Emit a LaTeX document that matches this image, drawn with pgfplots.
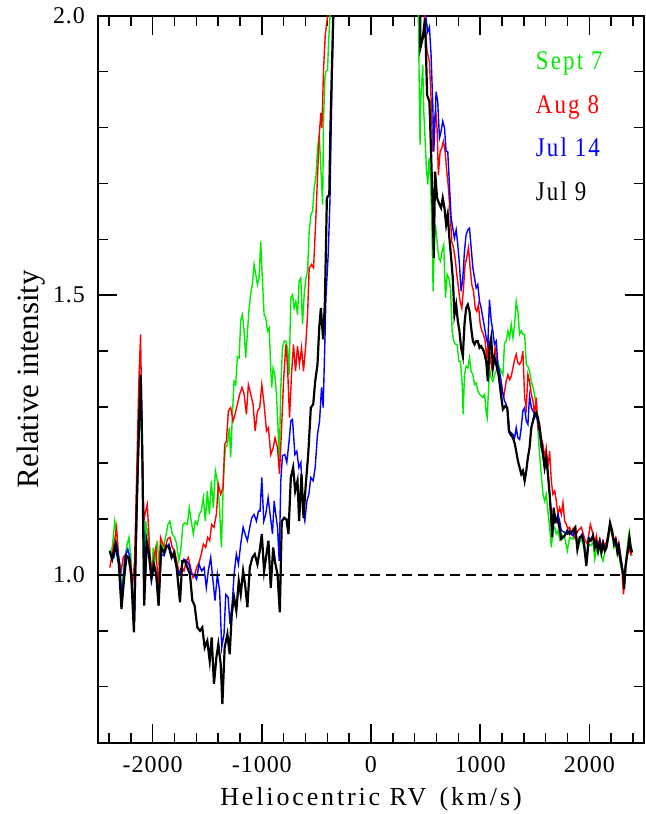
\documentclass[border=0pt]{standalone}
\usepackage{fontspec}
\setmainfont{Liberation Serif}
\newfontfamily\tickfont[LetterSpace=4]{Liberation Serif}
\newfontfamily\labfont[LetterSpace=11]{Liberation Serif}
\newfontfamily\legfont[LetterSpace=8,FakeStretch=0.85]{Liberation Serif}
\usepackage{pgfplots}
\pgfplotsset{compat=1.18}
\definecolor{sgreen}{RGB}{0,235,0}
\definecolor{sred}{RGB}{255,0,0}
\definecolor{sblue}{RGB}{0,0,255}

\begin{document}
\begin{tikzpicture}
\path[use as bounding box] (-49pt,-35.7pt) rectangle (273.5pt,371.3pt);
\begin{axis}[
  scale only axis, width=273pt, height=363.5pt,
  xmin=-2500, xmax=2500, ymin=0.7, ymax=2.0,
  xtick={-2000,-1000,0,1000,2000},
  xticklabels={-2000,-1000,0,1000,2000},
  minor xtick={-2400,-2200,...,2400},
  ytick={1.0,1.5,2.0},
  yticklabels={1.0,1.5,2.0},
  minor ytick={0.8,0.9,1.1,1.2,1.3,1.4,1.6,1.7,1.8,1.9},
  tick align=inside,
  major tick length=9.5pt, minor tick length=5pt,
  tick style={black, line width=0.75pt},
  axis line style={line width=1pt},
  xticklabel style={font=\tickfont\fontsize{12}{14}\selectfont, yshift=-3.5pt},
  yticklabel style={font=\tickfont\fontsize{12}{14}\selectfont, xshift=-3pt},
  xlabel={Heliocentric RV\hspace{0.5em}(km/s)},
  ylabel={Relative intensity},
  every axis x label/.style={at={(axis description cs:0.5,-0.078)}, anchor=center, font=\labfont\fontsize{13}{15}\selectfont},
  every axis y label/.style={at={(axis description cs:-0.122,0.5)}, rotate=90, anchor=center, font=\fontsize{15.5}{17}\selectfont},
]

% Sept 7
\addplot[sgreen, line width=0.7pt] coordinates {
(-2392,1.037) (-2370,1.049) (-2346,1.096) (-2324,1.061) (-2303,1.013) (-2285,0.965) (-2263,1.019) (-2239,1.049) (-2217,1.067) (-2196,1.025) (-2171,0.906) (-2150,1.108) (-2132,1.257) (-2113,1.346) (-2095,1.198) (-2080,0.989) (-2064,1.096) (-2049,1.079) (-2028,1.049) (-2009,1.001) (-1994,1.049) (-1979,1.025) (-1957,1.061) (-1936,1.007) (-1921,1.061) (-1902,1.049) (-1881,1.067) (-1860,1.090) (-1841,1.096) (-1820,1.073) (-1798,1.067) (-1780,1.055) (-1759,1.025) (-1743,1.043) (-1722,1.090) (-1704,1.093) (-1682,1.090) (-1664,1.120) (-1646,1.096) (-1627,1.073) (-1609,1.096) (-1590,1.090) (-1572,1.108) (-1554,1.114) (-1535,1.138) (-1517,1.096) (-1499,1.150) (-1480,1.108) (-1462,1.168) (-1444,1.120) (-1425,1.186) (-1407,1.168) (-1389,1.126) (-1370,1.049) (-1352,1.168) (-1334,1.227) (-1315,1.233) (-1297,1.263) (-1285,1.210) (-1269,1.287) (-1254,1.346) (-1239,1.340) (-1224,1.390) (-1208,1.388) (-1193,1.455) (-1178,1.465) (-1162,1.436) (-1147,1.388) (-1132,1.433) (-1117,1.474) (-1101,1.504) (-1086,1.519) (-1071,1.555) (-1055,1.537) (-1040,1.519) (-1025,1.531) (-1010,1.596) (-994,1.525) (-979,1.465) (-964,1.460) (-948,1.436) (-933,1.442) (-918,1.370) (-909,1.335) (-896,1.370) (-881,1.358) (-866,1.323) (-851,1.263) (-841,1.192) (-826,1.335) (-811,1.406) (-795,1.418) (-780,1.418) (-765,1.406) (-750,1.358) (-734,1.495) (-719,1.501) (-704,1.477) (-688,1.489) (-673,1.465) (-658,1.525) (-643,1.531) (-627,1.448) (-612,1.501) (-596,1.531) (-581,1.543) (-566,1.614) (-550,1.644) (-535,1.650) (-520,1.692) (-505,1.710) (-489,1.763) (-474,1.787) (-459,1.727) (-443,1.662) (-434,1.817) (-422,1.888) (-413,1.900) (-398,1.903) (-388,1.954) (-376,1.998) (-360,2.3)
(420,2.3) (434,1.995) (443,1.858) (449,1.769) (458,1.858) (474,1.912) (483,1.829) (495,1.781) (507,1.727) (520,1.698) (532,1.745) (544,1.710) (556,1.638) (569,1.507) (578,1.579) (590,1.626) (605,1.596) (621,1.567) (636,1.561) (651,1.579) (666,1.590) (682,1.495) (697,1.537) (712,1.531) (728,1.513) (743,1.436) (758,1.418) (773,1.412) (789,1.412) (804,1.382) (819,1.382) (835,1.340) (844,1.287) (856,1.358) (871,1.373) (887,1.370) (902,1.388) (917,1.364) (933,1.358) (948,1.340) (963,1.343) (978,1.329) (994,1.323) (1009,1.320) (1024,1.317) (1040,1.323) (1055,1.290) (1064,1.281) (1076,1.330) (1085,1.370) (1101,1.352) (1116,1.346) (1131,1.358) (1147,1.364) (1162,1.382) (1177,1.370) (1192,1.364) (1208,1.358) (1223,1.415) (1238,1.418) (1254,1.436) (1269,1.424) (1284,1.448) (1300,1.424) (1315,1.448) (1330,1.489) (1345,1.471) (1361,1.430) (1376,1.436) (1391,1.430) (1407,1.430) (1422,1.376) (1437,1.373) (1452,1.364) (1468,1.346) (1483,1.335) (1498,1.323) (1514,1.299) (1529,1.257) (1544,1.215) (1559,1.180) (1575,1.144) (1590,1.132) (1605,1.144) (1620,1.114) (1636,1.085) (1651,1.049) (1666,1.079) (1682,1.085) (1697,1.073) (1712,1.079) (1728,1.064) (1743,1.073) (1774,1.067) (1798,1.043) (1819,1.067) (1850,1.064) (1871,1.079) (1890,1.043) (1911,1.058) (1933,1.064) (1951,1.046) (1972,1.022) (1994,1.055) (2012,1.052) (2033,1.058) (2049,1.028) (2064,1.049) (2079,1.037) (2095,1.052) (2110,1.034) (2125,1.025) (2141,1.040) (2156,1.046) (2171,1.061) (2189,1.082) (2208,1.073) (2226,1.049) (2241,1.055) (2257,1.037) (2269,1.040) (2281,1.022) (2293,1.010) (2309,1.001) (2318,0.992) (2330,1.016) (2342,1.040) (2355,1.064) (2364,1.076) (2379,1.040) (2391,1.034)
};

% Aug 8
\addplot[sred, line width=0.7pt] coordinates {
(-2392,1.013) (-2370,1.037) (-2349,1.061) (-2330,1.085) (-2309,1.025) (-2288,1.007) (-2269,1.031) (-2248,1.037) (-2227,1.031) (-2208,1.013) (-2187,0.974) (-2165,1.025) (-2147,1.168) (-2126,1.346) (-2110,1.430) (-2095,1.227) (-2080,1.096) (-2064,1.114) (-2049,1.126) (-2034,1.073) (-2019,1.013) (-2003,1.019) (-1988,1.031) (-1970,1.049) (-1948,0.977) (-1927,1.067) (-1905,1.055) (-1884,1.049) (-1863,1.064) (-1841,1.067) (-1820,1.049) (-1798,1.043) (-1774,1.019) (-1752,1.001) (-1731,1.013) (-1713,1.007) (-1691,1.025) (-1673,1.031) (-1652,1.013) (-1630,0.995) (-1612,1.001) (-1597,1.013) (-1575,1.022) (-1554,1.037) (-1535,1.055) (-1514,1.049) (-1496,1.067) (-1477,1.061) (-1459,1.090) (-1438,1.085) (-1416,1.108) (-1398,1.162) (-1376,1.144) (-1355,1.156) (-1340,1.233) (-1324,1.239) (-1306,1.293) (-1285,1.299) (-1263,1.275) (-1245,1.287) (-1224,1.305) (-1202,1.323) (-1181,1.335) (-1162,1.323) (-1141,1.287) (-1123,1.340) (-1101,1.323) (-1080,1.305) (-1061,1.257) (-1040,1.293) (-1019,1.299) (-1000,1.340) (-979,1.305) (-957,1.257) (-939,1.263) (-918,1.215) (-896,1.227) (-878,1.245) (-856,1.227) (-838,1.180) (-820,1.257) (-801,1.346) (-780,1.412) (-765,1.376) (-746,1.281) (-728,1.358) (-710,1.412) (-691,1.364) (-673,1.409) (-655,1.376) (-636,1.406) (-618,1.364) (-597,1.412) (-581,1.465) (-566,1.549) (-544,1.555) (-526,1.549) (-505,1.638) (-489,1.715) (-474,1.787) (-459,1.826) (-450,1.799) (-434,1.906) (-419,1.965) (-398,1.998) (-380,2.3)
(470,2.3) (489,1.995) (514,1.936) (535,1.918) (550,1.852) (566,1.757) (581,1.817) (593,1.829) (605,1.799) (617,1.715) (633,1.757) (648,1.763) (663,1.775) (679,1.757) (694,1.721) (709,1.692) (724,1.650) (740,1.596) (755,1.585) (770,1.567) (786,1.537) (801,1.513) (816,1.489) (832,1.477) (847,1.513) (862,1.555) (877,1.567) (893,1.585) (908,1.549) (923,1.519) (939,1.507) (954,1.477) (969,1.471) (984,1.483) (1000,1.448) (1015,1.436) (1030,1.430) (1046,1.418) (1061,1.382) (1076,1.424) (1091,1.388) (1107,1.370) (1122,1.388) (1137,1.406) (1153,1.376) (1177,1.346) (1199,1.329) (1217,1.320) (1238,1.346) (1254,1.358) (1269,1.349) (1284,1.355) (1300,1.370) (1315,1.385) (1330,1.394) (1345,1.379) (1361,1.376) (1376,1.382) (1391,1.400) (1407,1.317) (1422,1.299) (1437,1.358) (1452,1.346) (1468,1.323) (1483,1.311) (1498,1.287) (1514,1.317) (1529,1.263) (1544,1.269) (1559,1.245) (1575,1.233) (1590,1.210) (1605,1.227) (1620,1.192) (1636,1.221) (1651,1.168) (1666,1.144) (1682,1.150) (1697,1.132) (1712,1.108) (1728,1.120) (1743,1.108) (1758,1.129) (1774,1.096) (1789,1.090) (1804,1.082) (1819,1.085) (1835,1.073) (1850,1.082) (1865,1.067) (1896,1.079) (1926,1.085) (1957,1.064) (1981,1.055) (2009,1.090) (2033,1.073) (2049,1.058) (2064,1.070) (2079,1.052) (2095,1.064) (2110,1.049) (2125,1.061) (2141,1.052) (2156,1.058) (2171,1.073) (2189,1.090) (2208,1.070) (2226,1.061) (2241,1.067) (2257,1.049) (2269,1.058) (2281,1.043) (2293,1.025) (2312,0.965) (2325,0.990) (2342,1.034) (2355,1.040) (2367,1.046) (2379,1.037) (2391,1.043)
};

% Jul 14
\addplot[sblue, line width=0.7pt] coordinates {
(-2392,1.040) (-2355,1.031) (-2330,1.055) (-2300,1.019) (-2279,0.954) (-2254,1.031) (-2227,1.046) (-2208,1.031) (-2187,0.989) (-2165,0.918) (-2141,1.138) (-2116,1.317) (-2104,1.346) (-2089,1.168) (-2071,0.977) (-2049,1.055) (-2028,1.037) (-2009,0.989) (-1988,1.013) (-1967,1.001) (-1945,0.945) (-1921,1.037) (-1896,1.034) (-1872,1.049) (-1850,1.055) (-1826,1.037) (-1804,1.031) (-1780,1.013) (-1759,1.001) (-1737,1.013) (-1713,1.028) (-1691,1.025) (-1667,1.019) (-1646,1.001) (-1621,1.001) (-1597,0.992) (-1575,1.019) (-1551,1.007) (-1529,1.013) (-1508,0.977) (-1490,1.007) (-1468,1.031) (-1447,0.989) (-1428,0.954) (-1407,1.001) (-1386,0.971) (-1367,0.870) (-1346,0.894) (-1330,0.965) (-1309,0.960) (-1291,0.912) (-1269,0.954) (-1254,1.001) (-1233,1.037) (-1214,1.019) (-1193,1.055) (-1171,1.085) (-1153,1.073) (-1132,1.061) (-1110,1.085) (-1092,1.102) (-1071,1.108) (-1049,1.096) (-1031,1.114) (-1016,1.114) (-1000,1.174) (-982,1.096) (-964,1.108) (-942,1.138) (-924,1.108) (-902,1.073) (-887,1.132) (-872,1.108) (-856,1.085) (-841,1.025) (-826,1.168) (-811,1.213) (-789,1.215) (-771,1.201) (-750,1.239) (-734,1.275) (-719,1.278) (-697,1.215) (-679,1.221) (-661,1.192) (-642,1.201) (-624,1.114) (-606,1.096) (-587,1.132) (-569,1.144) (-551,1.174) (-529,1.168) (-511,1.192) (-490,1.251) (-471,1.275) (-453,1.335) (-438,1.299) (-419,1.442) (-413,1.495) (-392,1.573) (-376,1.668) (-358,1.876) (-343,1.998) (-330,2.3)
(470,2.3) (504,1.995) (520,1.971) (535,1.980) (550,1.930) (566,1.840) (575,1.757) (587,1.811) (596,1.864) (611,1.846) (627,1.781) (642,1.793) (657,1.811) (673,1.799) (688,1.757) (703,1.757) (718,1.698) (734,1.638) (749,1.620) (764,1.602) (780,1.617) (795,1.590) (810,1.555) (825,1.507) (841,1.531) (856,1.579) (871,1.608) (887,1.617) (902,1.620) (917,1.585) (933,1.549) (948,1.531) (963,1.513) (978,1.519) (994,1.489) (1009,1.477) (1024,1.460) (1040,1.442) (1055,1.424) (1070,1.412) (1085,1.492) (1101,1.454) (1116,1.436) (1131,1.412) (1147,1.418) (1162,1.376) (1177,1.364) (1192,1.346) (1208,1.323) (1223,1.311) (1238,1.305) (1254,1.290) (1269,1.257) (1284,1.254) (1300,1.251) (1315,1.245) (1330,1.263) (1345,1.245) (1361,1.242) (1376,1.263) (1391,1.293) (1407,1.299) (1422,1.275) (1437,1.269) (1452,1.320) (1468,1.299) (1483,1.293) (1498,1.287) (1514,1.281) (1529,1.275) (1544,1.251) (1559,1.227) (1575,1.215) (1590,1.192) (1605,1.204) (1620,1.186) (1636,1.144) (1651,1.114) (1666,1.090) (1682,1.108) (1697,1.096) (1712,1.108) (1728,1.096) (1743,1.079) (1774,1.076) (1798,1.073) (1819,1.079) (1850,1.070) (1871,1.082) (1890,1.052) (1911,1.064) (1933,1.073) (1951,1.058) (1972,1.025) (1994,1.067) (2012,1.064) (2033,1.067) (2049,1.055) (2064,1.061) (2079,1.049) (2095,1.061) (2110,1.046) (2125,1.058) (2141,1.046) (2156,1.052) (2171,1.070) (2189,1.088) (2208,1.076) (2226,1.061) (2241,1.064) (2257,1.049) (2269,1.055) (2281,1.037) (2293,1.025) (2309,1.004) (2318,0.989) (2330,1.016) (2342,1.034) (2355,1.043) (2367,1.058) (2379,1.046) (2391,1.043)
};

% Jul 9
\addplot[black, line width=1.1pt] coordinates {
(-2392,1.043) (-2370,1.028) (-2340,1.055) (-2309,1.019) (-2285,0.939) (-2263,0.989) (-2239,1.034) (-2217,1.031) (-2196,1.001) (-2171,0.897) (-2147,1.108) (-2126,1.257) (-2110,1.358) (-2095,1.227) (-2077,0.945) (-2055,1.061) (-2034,1.037) (-2012,0.995) (-1988,1.019) (-1967,1.001) (-1945,0.945) (-1921,1.049) (-1896,1.040) (-1872,1.052) (-1850,1.049) (-1826,1.031) (-1804,1.040) (-1780,1.013) (-1749,0.951) (-1728,1.025) (-1704,1.025) (-1682,1.013) (-1658,1.001) (-1636,0.954) (-1615,0.945) (-1590,0.906) (-1566,0.900) (-1545,0.906) (-1523,0.870) (-1499,0.882) (-1477,0.846) (-1459,0.888) (-1438,0.805) (-1416,0.852) (-1398,0.876) (-1376,0.840) (-1361,0.769) (-1340,0.870) (-1315,0.894) (-1294,0.858) (-1275,0.930) (-1254,0.960) (-1233,0.936) (-1211,0.989) (-1193,0.965) (-1171,1.007) (-1153,0.983) (-1132,0.942) (-1110,1.013) (-1086,1.031) (-1064,1.037) (-1040,1.019) (-1019,1.043) (-1000,1.073) (-979,1.007) (-957,1.037) (-939,1.061) (-918,0.977) (-896,1.049) (-878,1.022) (-856,1.001) (-835,0.933) (-817,1.096) (-795,1.102) (-774,1.099) (-756,1.073) (-734,1.174) (-713,1.192) (-694,1.150) (-673,1.168) (-658,1.096) (-636,1.180) (-618,1.102) (-597,1.162) (-575,1.215) (-551,1.299) (-529,1.305) (-511,1.346) (-490,1.376) (-474,1.442) (-459,1.477) (-438,1.421) (-422,1.489) (-404,1.674) (-382,1.680) (-373,1.787) (-358,1.906) (-346,1.998) (-330,2.3)
(440,2.3) (452,1.942) (474,1.960) (495,1.995) (514,1.858) (535,1.846) (550,1.757) (566,1.650) (575,1.567) (587,1.721) (605,1.674) (627,1.662) (642,1.656) (657,1.674) (673,1.656) (688,1.626) (703,1.644) (718,1.602) (734,1.567) (749,1.531) (764,1.465) (780,1.483) (795,1.454) (810,1.436) (825,1.406) (841,1.391) (856,1.448) (871,1.477) (887,1.483) (902,1.471) (917,1.442) (933,1.418) (948,1.412) (963,1.418) (978,1.418) (994,1.406) (1009,1.409) (1033,1.400) (1055,1.382) (1070,1.346) (1085,1.406) (1101,1.424) (1116,1.370) (1131,1.388) (1147,1.376) (1168,1.358) (1186,1.329) (1208,1.296) (1229,1.302) (1248,1.299) (1263,1.257) (1278,1.251) (1300,1.245) (1315,1.236) (1330,1.221) (1345,1.204) (1361,1.192) (1376,1.180) (1391,1.186) (1407,1.168) (1422,1.186) (1437,1.210) (1452,1.227) (1468,1.263) (1483,1.275) (1498,1.287) (1514,1.290) (1529,1.281) (1544,1.263) (1559,1.239) (1575,1.215) (1590,1.192) (1605,1.210) (1620,1.180) (1636,1.144) (1651,1.096) (1660,1.067) (1673,1.120) (1688,1.096) (1706,1.102) (1725,1.085) (1743,1.064) (1774,1.070) (1798,1.079) (1819,1.073) (1850,1.079) (1871,1.085) (1890,1.046) (1911,1.067) (1933,1.070) (1951,1.055) (1972,1.016) (1994,1.064) (2012,1.061) (2033,1.070) (2049,1.049) (2064,1.058) (2079,1.043) (2095,1.058) (2110,1.040) (2125,1.055) (2141,1.043) (2156,1.049) (2171,1.067) (2189,1.093) (2208,1.079) (2226,1.055) (2241,1.061) (2257,1.040) (2269,1.049) (2281,1.031) (2293,1.019) (2309,1.001) (2318,0.975) (2330,1.013) (2342,1.031) (2355,1.049) (2367,1.067) (2379,1.049) (2391,1.040)
};

% continuum level
\addplot[black, line width=0.7pt, dash pattern=on 4.8pt off 3.2pt] coordinates {(-2500,1) (2500,1)};

\node[anchor=base west, text=sgreen, font=\legfont\fontsize{13.5}{15}\selectfont] at (rel axis cs:0.789,0.926) {Sept 7};
\node[anchor=base west, text=sred, font=\legfont\fontsize{13.5}{15}\selectfont] at (rel axis cs:0.789,0.865) {Aug 8};
\node[anchor=base west, text=sblue, font=\legfont\fontsize{13.5}{15}\selectfont] at (rel axis cs:0.789,0.806) {Jul 14};
\node[anchor=base west, text=black, font=\legfont\fontsize{13.5}{15}\selectfont] at (rel axis cs:0.789,0.746) {Jul 9};
\end{axis}
\end{tikzpicture}
\end{document}
